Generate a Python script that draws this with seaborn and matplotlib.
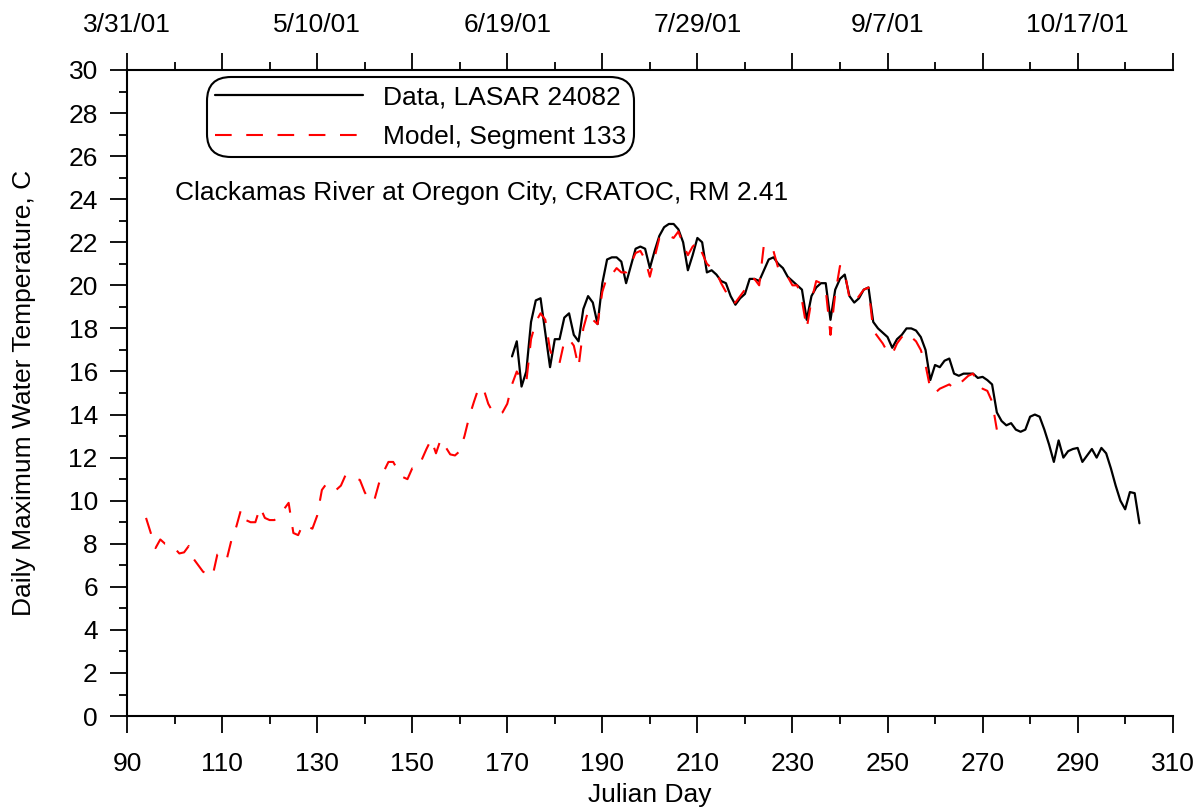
import numpy as np
import pandas as pd
import matplotlib
matplotlib.use("Agg")
import matplotlib.pyplot as plt
from matplotlib.ticker import FixedLocator
import seaborn as sns

# --- values ---
model_days = list(range(94, 274))
model_temp = [
    9.2, 8.5, 7.8, 8.2, 8.0, 8.0, 7.8, 7.55, 7.6, 7.9,
    7.3, 7.0, 6.7, 6.6, 6.5, 7.5, 7.6, 7.3, 8.2, 8.8,
    9.6, 9.1, 9.0, 9.0, 9.7, 9.2, 9.1, 9.1, 9.3, 9.6,
    9.9, 8.5, 8.4, 8.9, 8.8, 8.7, 9.3, 10.5, 10.8, 10.6,
    10.5, 10.7, 11.2, 11.1, 11.05, 10.96, 10.4, 10.0, 10.0, 10.8,
    11.35, 11.8, 11.8, 11.4, 11.1, 11.0, 11.5, 11.5, 11.9, 12.4,
    12.85, 12.2, 12.85, 12.5, 12.15, 12.1, 12.3, 13.0, 13.9, 14.6,
    15.25, 15.2, 14.5, 14.1, 14.0, 14.1, 14.5, 15.4, 16.0, 15.6,
    15.5, 17.5, 18.3, 18.7, 18.4, 17.0, 16.4, 16.4, 17.4, 17.5,
    17.2, 16.2, 18.0, 18.8, 18.4, 18.2, 19.7, 20.4, 20.5, 20.8,
    20.6, 20.6, 21.0, 21.5, 21.6, 21.2, 20.4, 21.3, 22.2, 22.4,
    22.3, 22.2, 22.5, 21.9, 21.4, 21.8, 22.0, 21.5, 21.0, 20.8,
    20.6, 20.1, 19.7, 19.2, 19.2, 19.5, 19.8, 20.2, 20.3, 20.0,
    21.9, 21.7, 21.6, 20.8, 20.6, 20.4, 20.0, 20.0, 19.3, 18.0,
    19.3, 20.2, 20.1, 19.8, 17.7, 19.6, 20.9, 20.6, 19.4, 19.2,
    19.5, 19.8, 19.9, 17.9, 17.6, 17.3, 16.9, 16.8, 17.3, 17.6,
    17.8, 17.6, 17.4, 17.0, 16.3, 15.2, 15.0, 15.2, 15.3, 15.4,
    15.2, 15.4, 15.6, 15.8, 15.9, 15.4, 15.2, 15.1, 14.6, 13.3,
]

data_days = list(range(171, 304))
data_temp = [
    16.7, 17.4, 15.3, 16.0, 18.3, 19.3, 19.4, 17.8, 16.2, 17.5,
    17.5, 18.5, 18.7, 17.7, 17.4, 18.9, 19.5, 19.2, 18.2, 20.1,
    21.2, 21.3, 21.3, 21.1, 20.1, 20.9, 21.7, 21.8, 21.7, 20.8,
    21.6, 22.3, 22.7, 22.85, 22.85, 22.6, 22.0, 20.7, 21.4, 22.2,
    22.0, 20.6, 20.7, 20.5, 20.2, 20.1, 19.5, 19.1, 19.4, 19.6,
    20.3, 20.3, 20.2, 20.7, 21.2, 21.3, 21.0, 20.8, 20.4, 20.2,
    20.0, 19.8, 18.4, 19.5, 19.9, 20.1, 20.1, 18.4, 19.8, 20.3,
    20.5, 19.5, 19.2, 19.4, 19.8, 19.9, 18.3, 18.0, 17.8, 17.6,
    17.1, 17.5, 17.7, 18.0, 18.0, 17.9, 17.6, 17.0, 15.6, 16.3,
    16.2, 16.5, 16.6, 15.9, 15.8, 15.9, 15.9, 15.9, 15.7, 15.75,
    15.6, 15.4, 14.1, 13.7, 13.5, 13.6, 13.3, 13.2, 13.3, 13.9,
    14.0, 13.9, 13.3, 12.6, 11.8, 12.8, 12.0, 12.3, 12.4, 12.45,
    11.8, 12.1, 12.4, 12.0, 12.45, 12.2, 11.5, 10.7, 10.0, 9.6,
    10.4, 10.35, 8.95,
]

x_major = list(range(90, 311, 20))
x_minor = list(range(100, 311, 20))
top_tick_days = [90, 130, 170, 210, 250, 290]
top_tick_labels = ["3/31/01", "5/10/01", "6/19/01", "7/29/01", "9/7/01", "10/17/01"]

sns.set_style("ticks")
plt.rcParams["font.family"] = ["Liberation Sans", "DejaVu Sans"]
plt.rcParams["text.color"] = "black"
plt.rcParams["axes.labelcolor"] = "black"
plt.rcParams["xtick.color"] = "black"
plt.rcParams["ytick.color"] = "black"
plt.rcParams["axes.edgecolor"] = "black"
fs = 19

fig = plt.figure(figsize=(12.04, 8.10), dpi=100)
ax = fig.add_axes([0.1055, 0.116, 0.8685, 0.7976])

sns.lineplot(x=data_days, y=data_temp, ax=ax, color="black", lw=1.6,
             label="Data, LASAR 24082")
sns.lineplot(x=model_days, y=model_temp, ax=ax, color="red", lw=1.5,
             linestyle=(0, (8, 7)), label="Model, Segment 133")

ax.set_xlim(90, 310)
ax.set_ylim(0, 30)
ax.xaxis.set_major_locator(FixedLocator(x_major))
ax.xaxis.set_minor_locator(FixedLocator(x_minor))
ax.yaxis.set_major_locator(FixedLocator(list(range(0, 31, 2))))
ax.yaxis.set_minor_locator(FixedLocator(list(range(1, 30, 2))))

for s in ["top", "right"]:
    ax.spines[s].set_visible(False)
for s in ["left", "bottom"]:
    ax.spines[s].set_linewidth(1.5)

ax.tick_params(which="major", length=12, width=1.3, labelsize=fs)
ax.tick_params(which="minor", length=6, width=1.3)
ax.tick_params(axis="x", which="major", pad=14)
ax.tick_params(axis="y", which="major", pad=9)

# top date axis
sec = ax.secondary_xaxis("top")
sec.set_xticks(x_major, labels=[top_tick_labels[top_tick_days.index(d)] if d in top_tick_days else ""
                                for d in x_major])
sec.xaxis.set_minor_locator(FixedLocator(x_minor))
sec.spines["top"].set_linewidth(1.5)
sec.tick_params(which="major", length=12, width=1.3, labelsize=fs, pad=12)
sec.tick_params(which="minor", length=6, width=1.3)

ax.set_xlabel("Julian Day", fontsize=fs, labelpad=5)
ax.set_ylabel("Daily Maximum Water Temperature, C", fontsize=fs, labelpad=23)

ax.text(100, 24.3, "Clackamas River at Oregon City, CRATOC, RM 2.41",
        fontsize=fs, va="center", ha="left")

leg = ax.legend(loc="upper left", bbox_to_anchor=(0.0765, 0.989), borderaxespad=0,
                fontsize=fs, handlelength=5.6, handletextpad=0.75, borderpad=0.3,
                labelspacing=0.62, frameon=True, fancybox=True)
frame = leg.get_frame()
frame.set_edgecolor("black")
frame.set_linewidth(1.5)
frame.set_alpha(1)
frame.set_boxstyle("round,pad=0,rounding_size=0.9")

fig.savefig("out.png", dpi=100)
